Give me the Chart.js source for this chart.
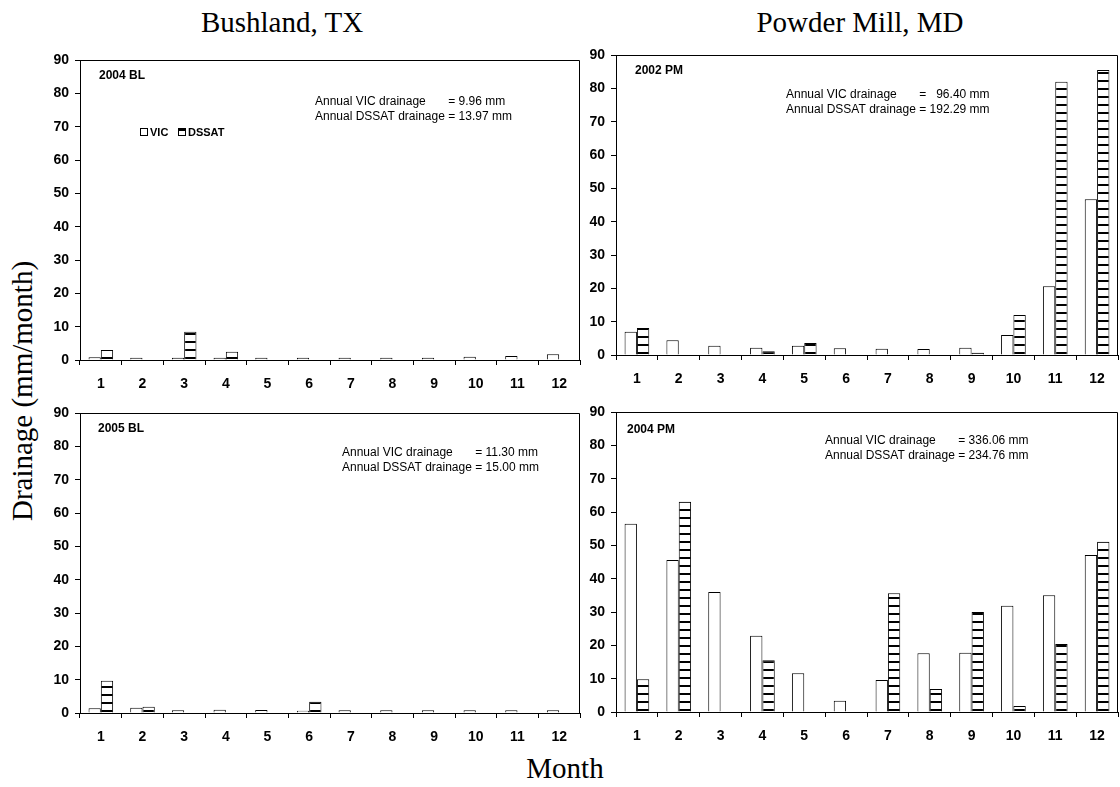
<!DOCTYPE html>
<html>
<head>
<meta charset="utf-8">
<script src="https://cdn.jsdelivr.net/npm/chart.js@4.4.1/dist/chart.umd.min.js"></script>
<style>
  html, body { margin: 0; padding: 0; background: #fff; }
  body { width: 1120px; height: 787px; position: relative; overflow: hidden;
         font-family: "Liberation Serif", "Times New Roman", serif; color: #000; }
  canvas { position: absolute; }
  .title { position: absolute; font-size: 29px; line-height: 30px; white-space: nowrap;
           transform: translateX(-50%); }
  #ytitle { position: absolute; left: 22px; top: 391px; font-size: 29px; line-height: 30px;
            white-space: nowrap; transform: translate(-50%, -50%) rotate(-90deg); }
</style>
</head>
<body>
<div class="title" style="left:282px; top:7px;">Bushland, TX</div>
<div class="title" style="left:860px; top:7px;">Powder Mill, MD</div>
<div id="ytitle">Drainage (mm/month)</div>
<div class="title" style="left:565px; top:753px;">Month</div>

<canvas id="c2004BL" width="545" height="360" style="left:40px; top:45px;"></canvas>
<canvas id="c2002PM" width="544" height="360" style="left:576px; top:40px;"></canvas>
<canvas id="c2005BL" width="545" height="360" style="left:40px; top:398px;"></canvas>
<canvas id="c2004PM" width="544" height="360" style="left:576px; top:397px;"></canvas>

<script>
// Monthly drainage (mm/month), VIC vs DSSAT
const months = ['1','2','3','4','5','6','7','8','9','10','11','12'];
const yTicks = [0, 10, 20, 30, 40, 50, 60, 70, 80, 90];

const vic2004BL   = [0.8, 0.65, 0.65, 0.65, 0.65, 0.65, 0.65, 0.65, 0.65, 1.0, 1.2, 1.7];
const dssat2004BL = [3.0, 0, 8.5, 2.5, 0, 0, 0, 0, 0, 0, 0, 0];

const vic2005BL   = [1.4, 1.6, 0.8, 1.0, 0.9, 0.7, 0.8, 0.8, 0.8, 0.8, 0.8, 0.8];
const dssat2005BL = [9.7, 1.9, 0, 0, 0, 3.4, 0, 0, 0, 0, 0, 0];

const vic2002PM   = [7.0, 4.4, 2.8, 2.2, 2.8, 2.0, 1.9, 1.8, 2.2, 6.0, 20.6, 46.7];
const dssat2002PM = [8.1, 0, 0, 1.1, 3.6, 0, 0, 0, 0.7, 12.0, 82.0, 85.5];

const vic2004PM   = [56.5, 45.6, 36.0, 22.9, 11.6, 3.4, 9.6, 17.6, 17.8, 31.9, 35.0, 47.1];
const dssat2004PM = [9.8, 63.1, 0, 15.5, 0, 0, 35.6, 6.9, 30.0, 1.8, 20.4, 51.1];

const seriesNames = ['VIC', 'DSSAT'];

const SANS = '"Liberation Sans", Arial, Helvetica, sans-serif';

// horizontal black stripes on white for the DSSAT bars
function stripePattern(ctx) {
  const c = document.createElement('canvas');
  c.width = 8; c.height = 8;
  const g = c.getContext('2d');
  g.fillStyle = '#fff'; g.fillRect(0, 0, 8, 8);
  g.fillStyle = '#000'; g.fillRect(0, 0, 8, 2);
  return ctx.createPattern(c, 'repeat');
}

// frame, panel tag, annual totals and (optionally) the legend
const panelDecor = {
  id: 'panelDecor',
  afterDraw(chart, args, o) {
    const ctx = chart.ctx, a = chart.chartArea;
    ctx.save();
    ctx.strokeStyle = '#000';
    ctx.lineWidth = 1;
    ctx.beginPath();
    ctx.moveTo(a.left, a.top + 0.5);
    ctx.lineTo(a.right - 0.5, a.top + 0.5);
    ctx.lineTo(a.right - 0.5, a.bottom);
    ctx.stroke();

    ctx.fillStyle = '#000';
    ctx.textBaseline = 'middle';
    ctx.textAlign = 'left';
    ctx.font = 'bold 12px ' + SANS;
    ctx.fillText(o.tag, a.left + o.tagX, a.top + o.tagY);

    ctx.font = '12px ' + SANS;
    const x0 = a.left + o.noteX, y0 = a.top + o.noteY;
    const lead = 'Annual DSSAT drainage ';
    const eqX = x0 + ctx.measureText(lead).width;
    ctx.fillText('Annual VIC drainage', x0, y0);
    ctx.fillText(o.vicText, eqX, y0);
    ctx.fillText(lead + o.dssatText, x0, y0 + 15);

    if (o.legend) {
      const lx = a.left + 60, ly = a.top + 72;
      ctx.font = 'bold 11px ' + SANS;
      ctx.fillStyle = '#fff';
      ctx.fillRect(lx + 0.5, ly - 3.5, 7, 7);
      ctx.strokeRect(lx + 0.5, ly - 3.5, 7, 7);
      ctx.fillStyle = '#000';
      ctx.fillText(seriesNames[0], lx + 10, ly + 0.5);
      const dx = lx + 38;
      ctx.fillStyle = '#fff';
      ctx.fillRect(dx + 0.5, ly - 3.5, 7, 7);
      ctx.strokeRect(dx + 0.5, ly - 3.5, 7, 7);
      ctx.fillStyle = '#000';
      ctx.fillRect(dx, ly - 3, 8, 2);
      ctx.fillText(seriesNames[1], dx + 10, ly + 0.5);
    }
    ctx.restore();
  }
};

function makePanel(id, vic, dssat, decor, rightPad) {
  const canvas = document.getElementById(id);
  const ctx = canvas.getContext('2d');
  return new Chart(ctx, {
    type: 'bar',
    data: {
      labels: months,
      datasets: [
        { label: seriesNames[0], data: vic, backgroundColor: '#fff',
          borderColor: '#000', borderWidth: 1 },
        { label: seriesNames[1], data: dssat, backgroundColor: stripePattern(ctx),
          borderColor: '#000', borderWidth: 1 }
      ]
    },
    options: {
      responsive: false,
      animation: false,
      devicePixelRatio: 1,
      datasets: { bar: { categoryPercentage: 0.59, barPercentage: 1.0 } },
      layout: { padding: { top: 15, right: rightPad, left: 0, bottom: 0 } },
      plugins: { legend: { display: false }, tooltip: { enabled: false }, panelDecor: decor },
      scales: {
        x: {
          grid: { display: true, drawOnChartArea: false, drawTicks: true, tickLength: 5,
                  color: '#000', offset: true },
          border: { display: true, color: '#000', width: 1 },
          ticks: { color: '#000', padding: 11, font: { family: SANS, size: 14, weight: 'bold' } },
          afterFit: s => { s.height = 45; }
        },
        y: {
          min: 0, max: 90,
          afterBuildTicks: s => { s.ticks = yTicks.map(v => ({ value: v })); },
          grid: { display: true, drawOnChartArea: false, drawTicks: true, tickLength: 5, color: '#000' },
          border: { display: true, color: '#000', width: 1 },
          ticks: { color: '#000', padding: 6, font: { family: SANS, size: 14, weight: 'bold' } },
          afterFit: s => { s.width = 40; }
        }
      }
    },
    plugins: [panelDecor]
  });
}

makePanel('c2004BL', vic2004BL, dssat2004BL,
  { tag: '2004 BL', tagX: 19, tagY: 16, noteX: 235, noteY: 42,
    vicText: '= 9.96 mm', dssatText: '= 13.97 mm', legend: true }, 5);
makePanel('c2002PM', vic2002PM, dssat2002PM,
  { tag: '2002 PM', tagX: 19, tagY: 16, noteX: 170, noteY: 40,
    vicText: '=   96.40 mm', dssatText: '= 192.29 mm', legend: false }, 2);
makePanel('c2005BL', vic2005BL, dssat2005BL,
  { tag: '2005 BL', tagX: 18, tagY: 16, noteX: 262, noteY: 40,
    vicText: '= 11.30 mm', dssatText: '= 15.00 mm', legend: false }, 5);
makePanel('c2004PM', vic2004PM, dssat2004PM,
  { tag: '2004 PM', tagX: 11, tagY: 18, noteX: 209, noteY: 29,
    vicText: '= 336.06 mm', dssatText: '= 234.76 mm', legend: false }, 2);
</script>
</body>
</html>
